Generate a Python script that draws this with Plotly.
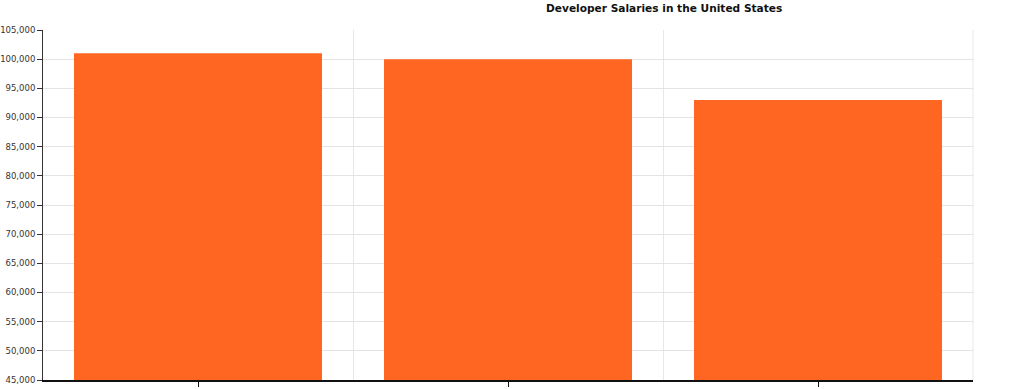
import plotly.graph_objects as go

categories = ["Full Stack Developer", "Back End Developer", "Front End Developer"]
salaries = [101000, 100000, 93000]
y_ticks = list(range(45000, 105001, 5000))
y_tick_labels = [f"{v:,}" for v in y_ticks]

positions = list(range(len(categories)))

fig = go.Figure()
fig.add_trace(go.Bar(
    x=positions,
    y=salaries,
    customdata=categories,
    hovertemplate="%{customdata}: %{y:,}<extra></extra>",
    marker=dict(color="#FF6622", line=dict(width=0)),
    width=0.8,
))

fig.update_layout(
    width=1012,
    height=389,
    margin=dict(l=43, r=39, t=30, b=9),
    paper_bgcolor="white",
    plot_bgcolor="white",
    showlegend=False,
    font=dict(family="DejaVu Sans, Verdana, sans-serif", size=10, color="#333333"),
    annotations=[dict(
        text="<b>Developer Salaries in the United States</b>",
        xref="paper", yref="paper", x=0.668, y=1, yshift=22,
        xanchor="center", yanchor="middle", showarrow=False,
        font=dict(family="DejaVu Sans, Verdana, sans-serif", size=10.6, color="#111111"),
    )],
    shapes=[dict(
        type="line", xref="paper", yref="paper", x0=1, x1=1, y0=0, y1=1,
        line=dict(color="#e8e8e8", width=1), layer="below",
    )],
)

fig.update_yaxes(
    range=[45000, 105000],
    tickvals=y_ticks,
    ticktext=y_tick_labels,
    ticks="outside",
    ticklen=5,
    tickcolor="#333333",
    showline=True,
    linecolor="#333333",
    linewidth=1,
    showgrid=True,
    gridcolor="#e3e3e3",
    gridwidth=1,
    zeroline=False,
    tickfont=dict(size=8.5, color="#333333"),
    automargin=False,
)

fig.update_xaxes(
    range=[-0.5, len(categories) - 0.5],
    tickvals=positions,
    ticktext=categories,
    showticklabels=False,
    ticks="outside",
    ticklen=5,
    tickcolor="#111111",
    showline=True,
    linecolor="#111111",
    linewidth=1.5,
    showgrid=False,
    zeroline=False,
    minor=dict(
        tickvals=[p + 0.5 for p in positions],
        showgrid=True,
        gridcolor="#e8e8e8",
        gridwidth=1,
        ticks="",
    ),
    automargin=False,
)

fig.write_html(
    "out.html",
    config={"displayModeBar": False},
    post_script="document.body.style.margin='0';document.body.style.overflow='hidden';",
)
